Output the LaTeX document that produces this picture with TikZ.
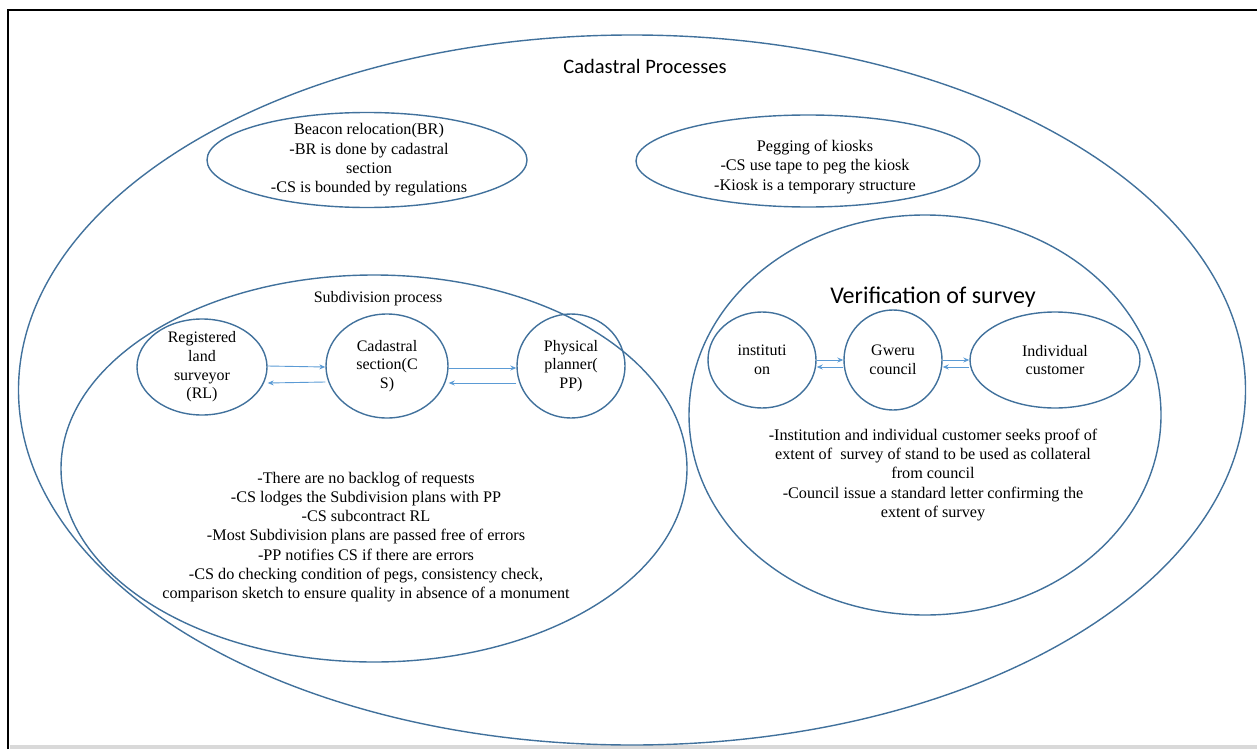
\documentclass[tikz,border=0pt]{standalone}
\usepackage{fontspec}
\setmainfont{Liberation Serif}
\newfontfamily\titlefont{Carlito}
\usetikzlibrary{shapes.geometric,arrows.meta}
\definecolor{edgeblue}{HTML}{41719C}
\definecolor{arrowblue}{HTML}{5B9BD5}
\begin{document}
\begin{tikzpicture}[x=1pt,y=-1pt,
  container/.style={ellipse, draw=edgeblue, line width=1.4pt, inner sep=0pt},
  actor/.style={ellipse, draw=edgeblue, line width=1.4pt, inner sep=0pt},
  flow/.style={draw=arrowblue, line width=0.9pt, -{Stealth[length=6pt,width=5pt]}},
  body/.style={align=center, font=\fontsize{16.2}{19.3}\selectfont, inner sep=0pt},
  inlabel/.style={align=center, font=\fontsize{16}{18.7}\selectfont, inner sep=0pt},
  title/.style={font=\titlefont\fontsize{20.5}{23}\selectfont, inner sep=0pt},
]
\useasboundingbox (0,0) rectangle (1257,749);
\fill[black!15] (10,745) rectangle (1257,749);
\draw[line width=2.5pt] (8,749) -- (8,10) -- (1257,10);

% containers
\node[container, minimum width=1227, minimum height=710] (outer) at (632,390) {};
\node[title] (outerT) at (645,66) {Cadastral Processes};

\node[container, minimum width=320, minimum height=95] (beacon) at (367,160) {};
\node[body] (beaconT) at (369,160) {Beacon relocation(BR)\\-BR is done by cadastral\\section\\-CS is bounded by regulations};

\node[container, minimum width=344, minimum height=92] (peg) at (808,161) {};
\node[body] (pegT) at (815,167) {Pegging of kiosks\\-CS use tape to peg the kiosk\\-Kiosk is a temporary structure};

\node[container, minimum width=626, minimum height=387] (sub) at (374,468.5) {};
\node[inlabel] (subT) at (378,299) {Subdivision process};

\node[container, minimum width=472, minimum height=400] (ver) at (925,415) {};
\node[title, font=\titlefont\fontsize{24}{26}\selectfont] (verT) at (933,297) {Verification of survey};

% subdivision actors
\node[actor, minimum width=130, minimum height=96,
  label={[inlabel]center:Registered\\land\\surveyor\\(RL)}] (rl) at (202,367) {};
\node[actor, minimum width=122, minimum height=104,
  label={[inlabel]center:Cadastral\\section(C\\S)}] (cs) at (387,366) {};
\node[actor, minimum width=108, minimum height=104,
  label={[inlabel]center:Physical\\planner(\\PP)}] (pp) at (571,366) {};

\draw[flow] ([yshift=1pt]rl.east) -- ([yshift=-1pt]cs.west);
\draw[flow] ([yshift=-16pt]cs.west) -- ([yshift=-16pt]rl.east);
\draw[flow] ([yshift=-2pt]cs.east) -- ([yshift=-2pt]pp.west);
\draw[flow] ([yshift=-17pt]pp.west) -- ([yshift=-17pt]cs.east);

\node[body] (subBody) at (366,537) {-There are no backlog of requests\\-CS lodges the Subdivision plans with PP\\-CS subcontract RL\\-Most Subdivision plans are passed free of errors\\-PP notifies CS if there are errors\\-CS do checking condition of pegs, consistency check,\\comparison sketch to ensure quality in absence of a monument};

% verification actors
\node[actor, minimum width=108, minimum height=96,
  label={[inlabel]center:instituti\\on}] (inst) at (762,360) {};
\node[actor, minimum width=98, minimum height=100,
  label={[inlabel]center:Gweru\\council}] (gw) at (893,360) {};
\node[actor, minimum width=170, minimum height=96,
  label={[inlabel]center:Individual\\customer}] (ic) at (1055,360) {};

\draw[flow] (inst.east) -- (gw.west);
\draw[flow] ([yshift=-7pt]gw.west) -- ([yshift=-7pt]inst.east);
\draw[flow] (gw.east) -- (ic.west);
\draw[flow] ([yshift=-7pt]ic.west) -- ([yshift=-7pt]gw.east);

\node[body] (verBody) at (933,475) {-Institution and individual customer seeks proof of\\extent of\ \ survey of stand to be used as collateral\\from council\\-Council issue a standard letter confirming the\\extent of survey};
\end{tikzpicture}
\end{document}
